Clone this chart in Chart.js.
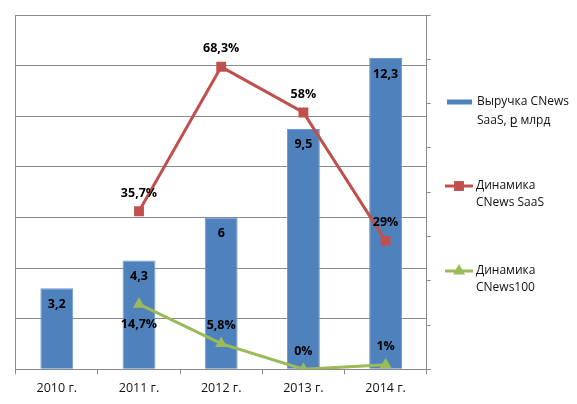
<!DOCTYPE html>
<html>
<head>
<meta charset="utf-8">
<script src="https://cdn.jsdelivr.net/npm/chart.js@4.4.1/dist/chart.umd.min.js"></script>
<style>
  html, body { margin: 0; padding: 0; background: #fff; }
</style>
</head>
<body>
<canvas id="chart" width="577" height="404"></canvas>
<script>
// ==========================================
// данные
// ==========================================

const YEARS = ['2010 г.', '2011 г.', '2012 г.', '2013 г.', '2014 г.'];
const REVENUE = [3.2, 4.3, 6, 9.5, 12.3];            // выручка, млрд руб.
const SAAS_GROWTH = [null, 35.7, 68.3, 58, 29];      // динамика CNews SaaS, %
const CNEWS100_GROWTH = [null, 14.7, 5.8, 0, 1];     // динамика CNews100, %
const LEFT_TICKS = [0, 2, 4, 6, 8, 10, 12, 14];
const RIGHT_TICKS = [0, 10, 20, 30, 40, 50, 60, 70, 80];

const LEGEND_TEXT = [
  ['Выручка CNews', 'SaaS, р\u0332 млрд'],
  ['Динамика', 'CNews SaaS'],
  ['Динамика', 'CNews100']
];

const BLUE = '#4F81BD';
const RED = '#C0504D';
const GREEN = '#9BBB59';
const GRID = '#8a8a8a';
const FONT = '"Open Sans", "DejaVu Sans", sans-serif';

const fmt = v => String(v).replace('.', ',');

// ==========================================
// подписи значений
// ==========================================

const valueLabels = {
  id: 'valueLabels',
  afterDatasetsDraw(chart) {
    const ctx = chart.ctx;
    ctx.save();
    ctx.font = 'bold 12.5px ' + FONT;
    ctx.fillStyle = '#000';
    ctx.textAlign = 'center';
    ctx.textBaseline = 'middle';

    chart.getDatasetMeta(0).data.forEach((bar, i) => {
      ctx.fillText(fmt(REVENUE[i]), bar.x, bar.y + 16);
    });
    chart.getDatasetMeta(1).data.forEach((pt, i) => {
      if (SAAS_GROWTH[i] === null) return;
      ctx.fillText(fmt(SAAS_GROWTH[i]) + '%', pt.x, pt.y - 18);
    });
    chart.getDatasetMeta(2).data.forEach((pt, i) => {
      if (CNEWS100_GROWTH[i] === null) return;
      const dy = i === 1 ? 20 : -18;
      ctx.fillText(fmt(CNEWS100_GROWTH[i]) + '%', pt.x, pt.y + dy);
    });
    ctx.restore();
  }
};

// ==========================================
// легенда справа
// ==========================================

const sideLegend = {
  id: 'sideLegend',
  afterDraw(chart) {
    const ctx = chart.ctx;
    const ds = chart.data.datasets;
    ctx.save();
    ctx.font = '12px ' + FONT;
    ctx.fillStyle = '#111';
    ctx.textAlign = 'left';
    ctx.textBaseline = 'middle';

    // столбцы
    ctx.fillStyle = ds[0].backgroundColor;
    ctx.fillRect(447, 99.5, 25, 5);
    ctx.fillStyle = '#111';
    ctx.fillText(LEGEND_TEXT[0][0], 477, 102);
    ctx.fillText(LEGEND_TEXT[0][1], 477, 121);

    // линии
    [[1, 186], [2, 271]].forEach(([k, y]) => {
      ctx.strokeStyle = ds[k].borderColor;
      ctx.lineWidth = 3;
      ctx.beginPath();
      ctx.moveTo(445, y);
      ctx.lineTo(473, y);
      ctx.stroke();
      ctx.fillStyle = ds[k].pointBackgroundColor;
      Chart.helpers.drawPoint(ctx, {
        pointStyle: ds[k].pointStyle, radius: ds[k].pointRadius, rotation: 0, borderWidth: 0
      }, 459, y);
      ctx.fillStyle = '#111';
      ctx.fillText(LEGEND_TEXT[k][0], 476, y);
      ctx.fillText(LEGEND_TEXT[k][1], 476, y + 17);
    });
    ctx.restore();
  }
};

new Chart(document.getElementById('chart'), {
  type: 'bar',
  data: {
    labels: YEARS,
    datasets: [
      {
        label: 'Выручка CNews SaaS, р млрд',
        data: REVENUE,
        backgroundColor: BLUE,
        borderColor: '#6f98cc',
        borderWidth: 1,
        categoryPercentage: 1,
        barPercentage: 0.4,
        yAxisID: 'y',
        order: 3
      },
      {
        type: 'line',
        label: 'Динамика CNews SaaS',
        data: SAAS_GROWTH,
        borderColor: RED,
        backgroundColor: RED,
        pointBackgroundColor: RED,
        pointBorderWidth: 0,
        borderWidth: 3,
        pointStyle: 'rect',
        pointRadius: 7,
        tension: 0,
        yAxisID: 'y2',
        order: 1
      },
      {
        type: 'line',
        label: 'Динамика CNews100',
        data: CNEWS100_GROWTH,
        borderColor: GREEN,
        backgroundColor: GREEN,
        pointBackgroundColor: GREEN,
        pointBorderWidth: 0,
        borderWidth: 3,
        pointStyle: 'triangle',
        pointRadius: 7,
        tension: 0,
        yAxisID: 'y2',
        order: 2
      }
    ]
  },
  options: {
    responsive: false,
    animation: false,
    layout: { padding: { left: 15.7, top: 15, right: 146.3, bottom: 0 } },
    plugins: {
      legend: { display: false },
      tooltip: { enabled: false }
    },
    scales: {
      x: {
        grid: { drawOnChartArea: false, drawTicks: true, tickLength: 5, color: GRID, offset: true },
        border: { display: true, color: GRID, width: 1 },
        ticks: { color: '#111', font: { family: FONT, size: 12.5 }, padding: 7 },
        afterFit: s => { s.height = 404 - 369.3; }
      },
      y: {
        position: 'left',
        min: LEFT_TICKS[0],
        max: LEFT_TICKS[LEFT_TICKS.length - 1],
        afterBuildTicks: s => { s.ticks = LEFT_TICKS.map(v => ({ value: v })); },
        ticks: { display: false },
        grid: { color: GRID, drawTicks: false, tickLength: 0 },
        border: { display: true, color: GRID },
        afterFit: s => { s.width = 0; }
      },
      y2: {
        position: 'right',
        min: RIGHT_TICKS[0],
        max: RIGHT_TICKS[RIGHT_TICKS.length - 1],
        afterBuildTicks: s => { s.ticks = RIGHT_TICKS.map(v => ({ value: v })); },
        ticks: { display: false },
        grid: { drawOnChartArea: false, drawTicks: true, tickLength: 4, color: GRID },
        border: { display: true, color: GRID },
        afterFit: s => { s.width = 4; }
      }
    }
  },
  plugins: [valueLabels, sideLegend]
});
</script>
</body>
</html>
